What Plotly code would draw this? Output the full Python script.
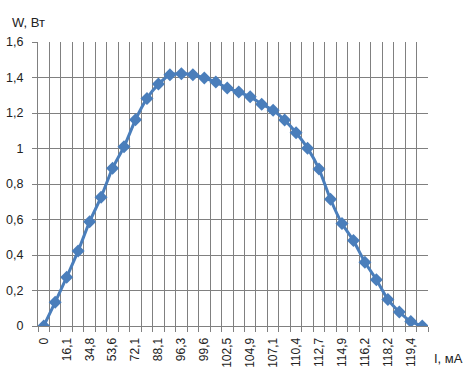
import plotly.graph_objects as go

# Current I, mA (every other category is labelled on the axis)
I_labels = ["0", "16,1", "34,8", "53,6", "72,1", "88,1", "96,3", "99,6", "102,5",
            "104,9", "107,1", "110,4", "112,7", "114,9", "116,2", "118,2", "119,4"]
# Power W, Вт (34 measurements)
W = [0.0, 0.134, 0.275, 0.423, 0.588, 0.726, 0.889, 1.01, 1.162, 1.282, 1.363,
     1.416, 1.421, 1.416, 1.397, 1.374, 1.341, 1.318, 1.292, 1.250, 1.216, 1.160,
     1.089, 1.002, 0.884, 0.714, 0.577, 0.481, 0.359, 0.261, 0.150, 0.079, 0.026, 0.0]

idx = list(range(len(W)))
FONT = "Liberation Sans"
GRID = "#808080"
BLUE = "#4a7ebb"
TXT = "#222222"

fig = go.Figure()
fig.add_trace(go.Scatter(
    x=idx, y=W, mode="lines+markers",
    line=dict(color=BLUE, width=3, shape="spline", smoothing=0.5),
    marker=dict(symbol="diamond", size=10, color=BLUE),
    showlegend=False, hoverinfo="skip"))
# helper trace on the boundary axis so it renders
fig.add_trace(go.Scatter(x=idx, y=W, xaxis="x2", mode="lines",
                         line=dict(width=0), opacity=0, showlegend=False,
                         hoverinfo="skip"))

fig.update_layout(
    width=475, height=378,
    margin=dict(l=38, r=47, t=42, b=52, autoexpand=False),
    paper_bgcolor="white", plot_bgcolor="white",
    separators=", ",
    font=dict(family=FONT, size=13, color=TXT),
    xaxis=dict(range=[-0.5, len(W) - 0.5], tickmode="array",
               tickvals=idx[::2], ticktext=I_labels, tickangle=-90,
               showgrid=False, ticks="", zeroline=False, showline=True,
               linecolor=GRID, linewidth=1, ticklabelstandoff=6,
               automargin=False,
               tickfont=dict(family=FONT, size=12, color=TXT)),
    xaxis2=dict(overlaying="x", matches="x", side="bottom",
                tickmode="linear", tick0=-0.5, dtick=1,
                showgrid=True, gridcolor=GRID, gridwidth=1,
                ticks="outside", ticklen=5, tickcolor=GRID,
                showticklabels=False, zeroline=False, showline=False,
                automargin=False),
    yaxis=dict(range=[0, 1.6], tickmode="linear", tick0=0, dtick=0.2,
               showgrid=True, gridcolor=GRID, gridwidth=1,
               ticks="outside", ticklen=5, tickcolor=GRID,
               zeroline=False, showline=True, linecolor=GRID,
               ticklabelstandoff=6, automargin=False,
               tickfont=dict(family=FONT, size=12.5, color=TXT)),
    annotations=[
        dict(text="W, Вт", xref="paper", yref="paper", x=-0.072, y=1.067,
             xanchor="left", yanchor="middle", showarrow=False,
             font=dict(family=FONT, size=13, color=TXT)),
        dict(text="I, мА", xref="paper", yref="paper", x=1.011, y=-0.116,
             xanchor="left", yanchor="middle", showarrow=False,
             font=dict(family=FONT, size=13, color=TXT)),
    ],
)

fig.write_html(
    "out.html",
    config={"displayModeBar": False, "staticPlot": True},
    post_script="document.body.style.margin='0';"
                "document.body.style.overflow='hidden';")
